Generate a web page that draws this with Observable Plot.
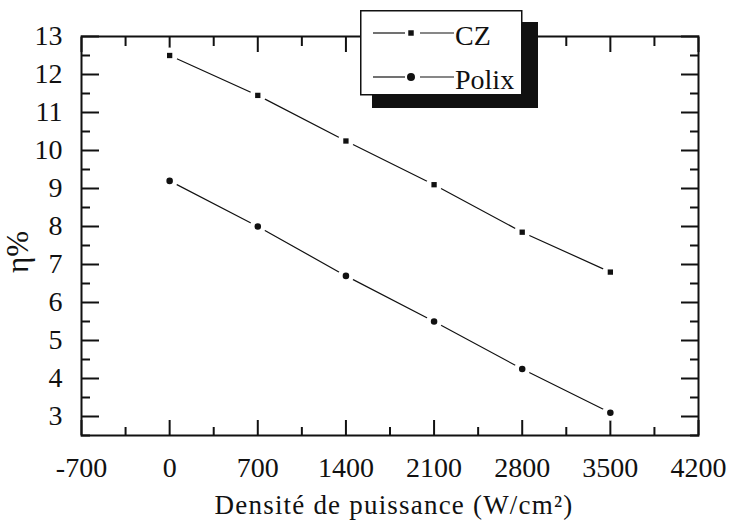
<!DOCTYPE html>
<html><head><meta charset="utf-8">
<script src="https://cdn.jsdelivr.net/npm/d3@7"></script>
<script src="https://cdn.jsdelivr.net/npm/@observablehq/plot@0.6"></script>
<style>
body{margin:0;background:#fff;}
#wrap{position:relative;width:731px;height:523px;}
#legend{position:absolute;left:360px;top:10px;}
</style></head><body><div id="wrap"></div>
<script>
const power = [0, 700, 1400, 2100, 2800, 3500];
const czEta = [12.5, 11.45, 10.25, 9.1, 7.85, 6.8];
const polixEta = [9.2, 8.0, 6.7, 5.5, 4.25, 3.1];
const seriesNames = ["CZ", "Polix"];
const seriesSymbols = ["square", "circle"];
const xMajor = [-700, 0, 700, 1400, 2100, 2800, 3500, 4200];
const xMinor = [-350, 350, 1050, 1750, 2450, 3150, 3850];
const yMajor = [3, 4, 5, 6, 7, 8, 9, 10, 11, 12, 13];
const yMinor = [2.5, 3.5, 4.5, 5.5, 6.5, 7.5, 8.5, 9.5, 10.5, 11.5, 12.5];
const xTitle = "Densité de puissance (W/cm²)";
const yTitle = "η%";

const rows = [
  ...power.map((p, i) => ({series: seriesNames[0], p, eta: czEta[i]})),
  ...power.map((p, i) => ({series: seriesNames[1], p, eta: polixEta[i]}))
];

const font = "'Liberation Serif','Times New Roman',serif";
const blank = () => "";
const ink = "#111";
const tickAxis = (fn, ticks, anchor, size) =>
  fn(ticks, {anchor, tickSize: -size, tickFormat: blank, label: null, strokeWidth: 2, stroke: ink});

const chart = Plot.plot({
  width: 731, height: 523,
  marginLeft: 81, marginRight: 33, marginTop: 36, marginBottom: 88,
  style: {fontFamily: font, fontSize: "28px", color: ink, background: "transparent"},
  x: {domain: [-700, 4200]},
  y: {domain: [2.5, 13]},
  symbol: {domain: seriesNames, range: seriesSymbols},
  marks: [
    tickAxis(Plot.axisX, xMajor, "bottom", 15),
    tickAxis(Plot.axisX, xMinor, "bottom", 8),
    tickAxis(Plot.axisX, xMajor, "top", 15),
    tickAxis(Plot.axisX, xMinor, "top", 9),
    tickAxis(Plot.axisY, yMajor, "left", 18),
    tickAxis(Plot.axisY, yMinor, "left", 9),
    tickAxis(Plot.axisY, yMajor, "right", 18),
    tickAxis(Plot.axisY, yMinor, "right", 9),
    Plot.axisX(xMajor, {anchor: "bottom", tickSize: 0, tickPadding: 22, tickFormat: d => String(d), label: null, fontSize: 28, fill: ink}),
    Plot.axisY(yMajor, {anchor: "left", tickSize: 0, tickPadding: 19, tickFormat: d => String(d), label: null, fontSize: 28, fill: ink}),
    Plot.frame({stroke: ink, strokeWidth: 2}),
    Plot.line(rows, {x: "p", y: "eta", z: "series", stroke: ink, strokeWidth: 1.2}),
    Plot.dot(rows, {x: "p", y: "eta", r: 8, fill: "white", stroke: null}),
    Plot.dot(rows, {x: "p", y: "eta", symbol: "series", r: d => d.series === seriesNames[0] ? 3.6 : 4.3, fill: ink, stroke: null}),
    Plot.text([yTitle], {frameAnchor: "left", textAnchor: "middle", lineAnchor: "middle", rotate: -90, dx: -63, dy: 16, fontSize: 31, fill: ink}),
    Plot.text([xTitle], {frameAnchor: "bottom", textAnchor: "middle", lineAnchor: "middle", dx: 4, dy: 70, fontSize: 27, fill: ink})
  ]
});
const wrap = document.getElementById("wrap");
wrap.appendChild(chart);
chart.querySelectorAll("text").forEach(t => { if (t.textContent === xTitle) t.style.letterSpacing = "1.2px"; });

// Legend overlay (box with drop shadow)
const lg = d3.select(wrap).append("svg").attr("id", "legend")
  .attr("width", 185).attr("height", 105)
  .style("font-family", font);
lg.append("rect").attr("x", 12).attr("y", 12).attr("width", 166).attr("height", 86).attr("fill", ink);
lg.append("rect").attr("x", 0.75).attr("y", 0.75).attr("width", 161).attr("height", 84)
  .attr("fill", "white").attr("stroke", ink).attr("stroke-width", 1.5);
const rowY = [23, 67];
seriesNames.forEach((name, i) => {
  const g = lg.append("g").attr("transform", `translate(0,${rowY[i]})`);
  g.append("line").attr("x1", 13).attr("x2", 45).attr("stroke", ink).attr("stroke-width", 1.2);
  g.append("line").attr("x1", 60).attr("x2", 94).attr("stroke", ink).attr("stroke-width", 1.2);
  const sym = seriesSymbols[i] === "square" ? d3.symbolSquare : d3.symbolCircle;
  const size = seriesSymbols[i] === "square" ? 30 : 50;
  g.append("path").attr("d", d3.symbol(sym, size)()).attr("transform", "translate(51,0)").attr("fill", ink);
  g.append("text").attr("x", 95).attr("y", 12).attr("font-size", 28).attr("fill", ink).text(name);
});
</script></body></html>
